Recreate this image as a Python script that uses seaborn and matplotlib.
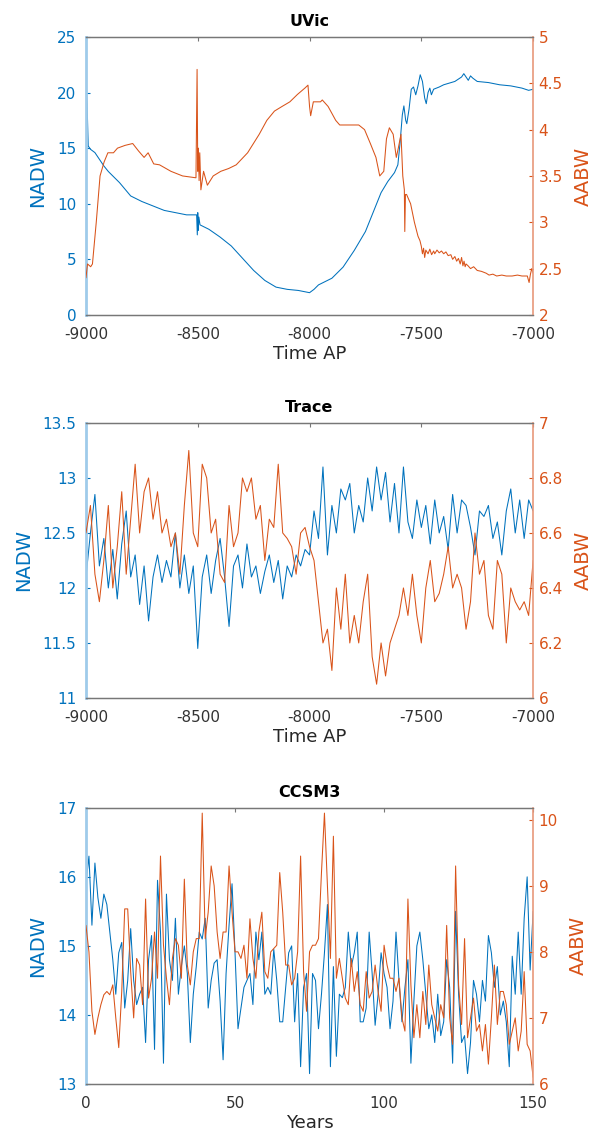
import numpy as np
import pandas as pd
import matplotlib
matplotlib.use("Agg")
import matplotlib.pyplot as plt
import seaborn as sns

sns.set_style("white")
plt.rcParams['font.family'] = ['DejaVu Sans']

BLUE = '#0072BD'
ORANGE = '#D95319'
GRAY = '#262626'

# ---------------- UVic ----------------
uvic_nadw_t = [-9000, -8995, -8990, -8980, -8960, -8940, -8920, -8900, -8850, -8800, -8750, -8700,
               -8650, -8600, -8550, -8505, -8502, -8500, -8498, -8495, -8490, -8480, -8450, -8400,
               -8350, -8300, -8250, -8200, -8150, -8100, -8050, -8000, -7980, -7960, -7950, -7900,
               -7850, -7800, -7750, -7700, -7680, -7650, -7620, -7605, -7595, -7585, -7578, -7570,
               -7565, -7555, -7545, -7535, -7525, -7515, -7505, -7495, -7485, -7478, -7470, -7462,
               -7455, -7445, -7420, -7400, -7350, -7320, -7310, -7300, -7290, -7280, -7270, -7250,
               -7200, -7150, -7100, -7050, -7020, -7000]
uvic_nadw = [20.8, 19.0, 15.2, 14.9, 14.6, 14.0, 13.4, 12.9, 11.9, 10.7, 10.2, 9.8,
             9.4, 9.2, 9.0, 9.0, 7.2, 9.2, 7.6, 8.8, 8.1, 8.0, 7.7, 7.0,
             6.2, 5.1, 4.0, 3.1, 2.5, 2.3, 2.2, 2.0, 2.3, 2.7, 2.8, 3.3,
             4.3, 5.8, 7.5, 10.0, 11.0, 12.0, 12.8, 13.5, 15.5, 18.0, 18.8, 17.5,
             17.2, 18.5, 20.3, 20.5, 19.8, 20.6, 21.6, 21.0, 19.5, 19.0, 20.0, 20.4,
             19.8, 20.3, 20.5, 20.7, 21.0, 21.4, 21.7, 21.4, 21.1, 21.5, 21.3, 21.0,
             20.9, 20.7, 20.6, 20.4, 20.2, 20.3]

uvic_aabw_t = [-9000, -8993, -8979, -8971, -8954, -8937, -8919, -8902, -8877, -8859, -8825, -8791,
               -8765, -8740, -8722, -8697, -8671, -8620, -8568, -8508, -8503, -8500, -8497, -8494,
               -8491, -8486, -8474, -8457, -8431, -8397, -8362, -8328, -8277, -8225, -8191, -8157,
               -8123, -8088, -8054, -8020, -8007, -8000, -7995, -7983, -7951, -7943, -7917, -7883,
               -7865, -7814, -7780, -7754, -7728, -7703, -7686, -7668, -7656, -7643, -7626, -7612,
               -7603, -7591, -7583, -7576, -7574, -7571, -7566, -7548, -7531, -7515, -7506, -7500,
               -7495, -7490, -7485, -7480, -7470, -7462, -7454, -7445, -7440, -7430, -7420, -7410,
               -7400, -7390, -7380, -7368, -7360, -7350, -7342, -7334, -7326, -7320, -7314, -7309,
               -7304, -7300, -7291, -7280, -7266, -7250, -7231, -7210, -7197, -7180, -7163, -7140,
               -7120, -7094, -7070, -7050, -7026, -7018, -7012, -7006, -7000]
uvic_aabw = [2.40, 2.55, 2.52, 2.55, 3.00, 3.50, 3.65, 3.75, 3.75, 3.80, 3.83, 3.85,
             3.77, 3.70, 3.75, 3.63, 3.62, 3.55, 3.50, 3.48, 4.65, 3.55, 3.80, 3.45,
             3.75, 3.35, 3.55, 3.40, 3.50, 3.55, 3.58, 3.62, 3.75, 3.95, 4.10, 4.20,
             4.25, 4.30, 4.38, 4.45, 4.48, 4.25, 4.15, 4.30, 4.30, 4.32, 4.25, 4.10,
             4.05, 4.05, 4.05, 4.00, 3.85, 3.70, 3.50, 3.55, 3.90, 4.02, 3.95, 3.70,
             3.80, 3.95, 3.50, 3.35, 2.90, 3.30, 3.30, 3.20, 3.00, 2.85, 2.80, 2.74,
             2.66, 2.72, 2.62, 2.70, 2.66, 2.71, 2.65, 2.69, 2.66, 2.70, 2.67, 2.69,
             2.66, 2.68, 2.64, 2.65, 2.60, 2.63, 2.58, 2.61, 2.55, 2.62, 2.53, 2.58,
             2.52, 2.55, 2.53, 2.50, 2.52, 2.48, 2.47, 2.45, 2.43, 2.44, 2.42, 2.43,
             2.42, 2.42, 2.43, 2.42, 2.42, 2.35, 2.44, 2.50, 2.45]

# ---------------- Trace ----------------
trace_t = list(range(-9000, -6999, 20))
trace_nadw = [12.1, 12.5, 12.85, 12.2, 12.45, 12.0, 12.35, 11.9, 12.4, 12.7,
              12.1, 12.3, 11.85, 12.2, 11.7, 12.1, 12.3, 12.05, 12.25, 12.1,
              12.5, 12.0, 12.3, 11.95, 12.2, 11.45, 12.1, 12.3, 11.95, 12.25,
              12.45, 12.1, 11.65, 12.2, 12.3, 12.0, 12.4, 12.1, 12.2, 11.95,
              12.15, 12.3, 12.05, 12.25, 11.9, 12.2, 12.1, 12.3, 12.2, 12.35,
              12.3, 12.7, 12.45, 13.1, 12.3, 12.75, 12.5, 12.9, 12.8, 12.95,
              12.5, 12.75, 12.6, 13.0, 12.7, 13.1, 12.8, 13.05, 12.6, 12.95,
              12.5, 13.1, 12.6, 12.45, 12.8, 12.55, 12.75, 12.4, 12.8, 12.5,
              12.65, 12.35, 12.85, 12.5, 12.8, 12.75, 12.55, 12.3, 12.7, 12.65,
              12.75, 12.45, 12.6, 12.3, 12.7, 12.9, 12.5, 12.8, 12.45, 12.8,
              12.7]
trace_aabw = [6.6, 6.7, 6.45, 6.35, 6.5, 6.7, 6.4, 6.55, 6.75, 6.45,
              6.65, 6.85, 6.6, 6.75, 6.8, 6.65, 6.75, 6.6, 6.65, 6.55,
              6.6, 6.45, 6.7, 6.9, 6.6, 6.55, 6.85, 6.8, 6.6, 6.65,
              6.45, 6.42, 6.7, 6.55, 6.6, 6.8, 6.75, 6.8, 6.65, 6.7,
              6.5, 6.65, 6.62, 6.85, 6.6, 6.58, 6.55, 6.45, 6.6, 6.62,
              6.55, 6.5, 6.35, 6.2, 6.25, 6.1, 6.4, 6.25, 6.45, 6.2,
              6.3, 6.2, 6.35, 6.45, 6.15, 6.05, 6.2, 6.08, 6.2, 6.25,
              6.3, 6.4, 6.3, 6.45, 6.3, 6.2, 6.4, 6.5, 6.35, 6.38,
              6.45, 6.55, 6.4, 6.45, 6.4, 6.25, 6.35, 6.6, 6.45, 6.5,
              6.3, 6.25, 6.5, 6.45, 6.2, 6.4, 6.35, 6.32, 6.35, 6.3,
              6.5]

# ---------------- CCSM3 ----------------
ccsm_t = list(range(0, 151))
ccsm_nadw = [15.9, 16.3, 15.3, 16.2, 15.7, 15.4, 15.75, 15.6, 15.2, 14.8,
             14.3, 14.9, 15.05, 14.1, 14.5, 15.25, 14.5, 14.15, 14.3, 14.4,
             13.6, 14.8, 15.15, 13.5, 15.95, 15.2, 13.3, 15.75, 14.8, 14.5,
             15.4, 14.3, 14.7, 15.0, 14.6, 13.6, 14.3, 14.7, 15.2, 15.1,
             15.4, 14.1, 14.5, 14.75, 14.8, 14.2, 13.35, 14.6, 15.3, 15.9,
             14.9, 13.8, 14.1, 14.4, 14.5, 14.6, 14.15, 15.2, 14.8, 15.2,
             14.3, 14.4, 14.3, 14.95, 14.5, 13.9, 13.9, 14.4, 14.9, 15.0,
             13.9, 14.6, 13.25, 14.4, 14.6, 13.15, 14.6, 14.5, 13.8, 14.3,
             14.9, 15.6, 13.25, 14.7, 13.4, 14.3, 14.25, 14.4, 15.2, 14.7,
             14.9, 15.2, 13.9, 13.9, 14.1, 15.2, 14.6, 13.85, 14.3, 14.9,
             14.6, 14.4, 13.8, 14.2, 15.2, 14.5, 13.9, 14.4, 14.8, 13.3,
             14.2, 15.0, 15.2, 14.8, 14.3, 13.8, 14.0, 13.6, 14.3, 13.7,
             13.9, 14.8, 14.4, 13.3, 15.5, 14.3, 13.6, 13.7, 13.15, 13.6,
             14.5, 14.3, 13.9, 14.5, 14.2, 15.15, 14.9, 14.4, 14.7, 14.0,
             14.2, 13.9, 13.25, 14.85, 14.3, 15.2, 14.3, 15.4, 16.0, 14.65,
             15.5]
ccsm_aabw = [8.4, 8.0, 7.1, 6.75, 7.0, 7.2, 7.35, 7.4, 7.35, 7.5,
             7.0, 6.55, 7.4, 8.65, 8.65, 7.7, 7.0, 7.9, 7.8, 7.2,
             8.8, 7.3, 7.6, 8.3, 7.6, 9.45, 8.1, 7.6, 7.2, 7.9,
             8.2, 8.1, 7.6, 9.1, 7.8, 7.5, 8.0, 8.2, 8.2, 10.1,
             8.2, 8.6, 9.3, 9.0, 8.3, 7.9, 8.3, 8.3, 9.3, 8.6,
             8.0, 8.0, 7.9, 8.1, 7.6, 8.5, 7.9, 7.6, 8.3, 8.6,
             7.7, 7.6, 8.0, 8.05, 8.1, 9.2, 8.6, 7.8, 7.8, 7.5,
             7.6, 8.0, 9.45, 7.7, 7.1, 8.0, 8.1, 8.1, 8.2, 9.2,
             10.1, 9.0, 7.9, 9.75, 7.6, 7.9, 7.6, 7.3, 7.2, 7.9,
             7.4, 7.7, 7.2, 7.1, 7.7, 7.3, 7.4, 7.8, 7.4, 7.1,
             8.1, 7.8, 7.6, 7.6, 7.4, 7.6, 7.0, 6.8, 8.8, 7.5,
             6.7, 7.2, 6.7, 7.4, 6.9, 7.8, 7.2, 7.0, 6.8, 7.2,
             7.0, 8.4, 7.0, 6.6, 9.3, 7.5, 6.9, 8.2, 6.7, 7.0,
             7.3, 6.8, 6.9, 6.5, 6.9, 6.3, 7.0, 7.8, 6.9, 7.4,
             7.4, 7.2, 6.6, 6.8, 7.0, 6.5, 6.8, 7.7, 6.6, 6.5,
             6.1]

panels = [
    dict(title='UVic', tl=uvic_nadw_t, l=uvic_nadw, tr=uvic_aabw_t, r=uvic_aabw,
         xlim=(-9000, -7000), xticks=[-9000, -8500, -8000, -7500, -7000], xlabel='Time AP',
         ylim=(0, 25), yticks=[0, 5, 10, 15, 20, 25],
         rlim=(2, 5), rticks=[2, 2.5, 3, 3.5, 4, 4.5, 5],
         pos=[0.1440, 0.7240, 0.7490, 0.2436]),
    dict(title='Trace', tl=trace_t, l=trace_nadw, tr=trace_t, r=trace_aabw,
         xlim=(-9000, -7000), xticks=[-9000, -8500, -8000, -7500, -7000], xlabel='Time AP',
         ylim=(11, 13.5), yticks=[11, 11.5, 12, 12.5, 13, 13.5],
         rlim=(6, 7), rticks=[6, 6.2, 6.4, 6.6, 6.8, 7],
         pos=[0.1440, 0.3883, 0.7490, 0.2410]),
    dict(title='CCSM3', tl=ccsm_t, l=ccsm_nadw, tr=ccsm_t, r=ccsm_aabw,
         xlim=(0, 150), xticks=[0, 50, 100, 150], xlabel='Years',
         ylim=(13, 17), yticks=[13, 14, 15, 16, 17],
         rlim=(6, 10.18), rticks=[6, 7, 8, 9, 10],
         pos=[0.1440, 0.0500, 0.7490, 0.2420]),
]

fig = plt.figure(figsize=(5.97, 11.41), dpi=100)

for p in panels:
    ax = fig.add_axes(p['pos'])
    dl = pd.DataFrame({'t': p['tl'], 'v': p['l']})
    dr = pd.DataFrame({'t': p['tr'], 'v': p['r']})
    sns.lineplot(data=dl, x='t', y='v', ax=ax, color=BLUE, linewidth=0.75, estimator=None)
    ax2 = ax.twinx()
    ax2.set_position(p['pos'])
    sns.lineplot(data=dr, x='t', y='v', ax=ax2, color=ORANGE, linewidth=0.75, estimator=None)

    ax.set_xlim(*p['xlim'])
    ax.set_xticks(p['xticks'])
    ax.set_xticklabels([str(v) for v in p['xticks']])
    ax.set_ylim(*p['ylim'])
    ax.set_yticks(p['yticks'])
    ax.set_yticklabels([('%g' % v) for v in p['yticks']])
    ax2.set_ylim(*p['rlim'])
    ax2.set_yticks(p['rticks'])
    ax2.set_yticklabels([('%g' % v) for v in p['rticks']])

    ax.set_title(p['title'], fontsize=11.5, fontweight='bold', color='black', pad=8)
    ax.set_xlabel(p['xlabel'], fontsize=13, color=GRAY, labelpad=2)
    ax.set_ylabel('NADW', fontsize=14, color=BLUE, labelpad=7)
    ax2.set_ylabel('AABW', fontsize=14, color=ORANGE, labelpad=8)

    ax.tick_params(axis='x', direction='in', length=3, colors='#777777', labelsize=11,
                   labelcolor='#333333', top=True, pad=9)
    ax.tick_params(axis='y', direction='in', length=3, color=BLUE, labelsize=11,
                   labelcolor=BLUE, pad=7)
    ax2.tick_params(axis='y', direction='in', length=3, color=ORANGE, labelsize=11,
                    labelcolor=ORANGE, pad=4)

    for a in (ax, ax2):
        a.spines['top'].set_color('#777777')
        a.spines['bottom'].set_color('#777777')
        a.spines['top'].set_linewidth(0.9)
        a.spines['bottom'].set_linewidth(0.9)
    ax.spines['left'].set_color('#9fcbea')
    ax.spines['left'].set_linewidth(2.0)
    ax2.spines['left'].set_visible(False)
    ax.spines['right'].set_visible(False)
    ax2.spines['right'].set_color('#e8987a')
    ax2.spines['right'].set_linewidth(1.2)

fig.savefig('out.png', dpi=100)
